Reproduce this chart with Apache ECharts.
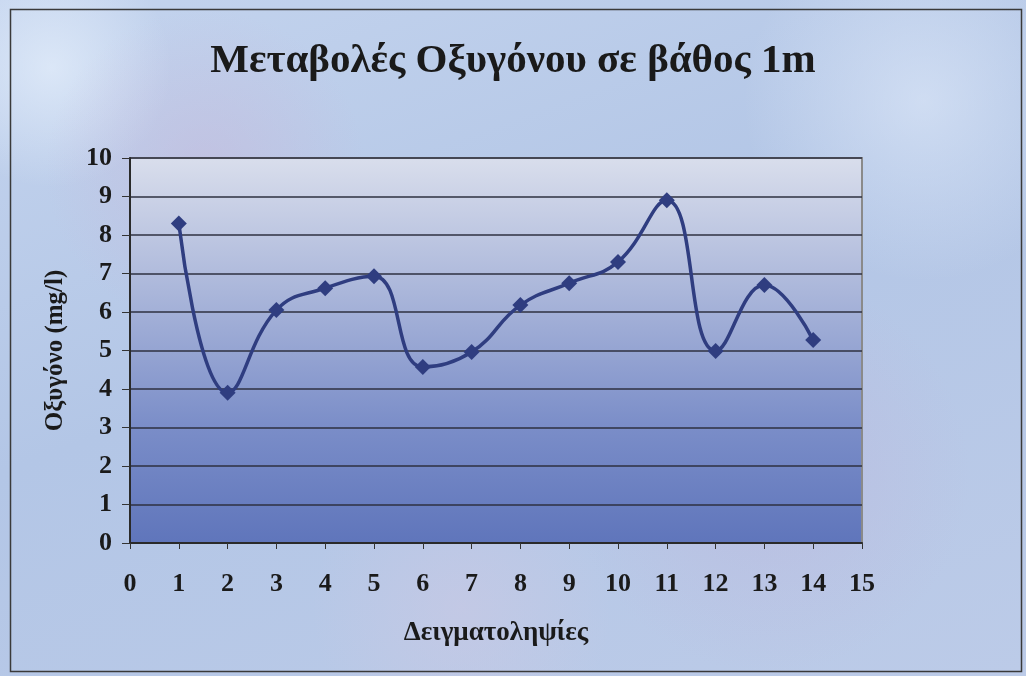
<!DOCTYPE html>
<html>
<head>
<meta charset="utf-8">
<script src="https://cdn.jsdelivr.net/npm/echarts@6/dist/echarts.min.js"></script>
<style>
html,body{margin:0;padding:0;width:1026px;height:676px;overflow:hidden;}
body{background:
 radial-gradient(circle at 20% 25%, rgba(200,180,215,0.45) 0, rgba(200,180,215,0) 160px),
 radial-gradient(circle at 75% 70%, rgba(190,175,215,0.4) 0, rgba(190,175,215,0) 200px),
 radial-gradient(circle at 90% 15%, rgba(225,235,250,0.6) 0, rgba(225,235,250,0) 180px),
 radial-gradient(circle at 5% 10%, rgba(230,240,252,0.7) 0, rgba(230,240,252,0) 120px),
 radial-gradient(circle at 45% 90%, rgba(215,200,225,0.35) 0, rgba(215,200,225,0) 150px),
 linear-gradient(160deg,#c4d4ee 0%,#b3c6e6 45%,#bccbe8 100%);}
#chart{width:1026px;height:676px;}
</style>
</head>
<body>
<div id="chart"></div>
<script>
const titleText = 'Μεταβολές Οξυγόνου σε βάθος 1m';
const xName = 'Δειγματοληψίες';
const yName = 'Οξυγόνο (mg/l)';
const samples = [1,2,3,4,5,6,7,8,9,10,11,12,13,14];
const oxygen = [8.3,3.9,6.05,6.62,6.93,4.57,4.96,6.18,6.75,7.3,8.9,4.99,6.7,5.27];

const data = samples.map((s,i)=>[s, oxygen[i]]);
const chart = echarts.init(document.getElementById('chart'));
const font = '"Liberation Serif","Times New Roman",serif';
chart.setOption({
  backgroundColor: 'transparent',
  animation: false,
  title: {
    text: titleText, left: 'center', top: 36,
    textStyle: {fontFamily: font, fontWeight: 'bold', fontSize: 41, color: '#1a1a1a'}
  },
  graphic: [{
    type: 'rect', left: 8, top: 7, z: -1,
    shape: {width: 1011, height: 662},
    style: {fill: 'none', stroke: '#3a3a3a', lineWidth: 1.5}
  }],
  grid: {
    left: 130, right: 164, top: 158, bottom: 133,
    show: true,
    borderColor: '#8a8a8a', borderWidth: 2,
    backgroundColor: new echarts.graphic.LinearGradient(0,0,0,1,[
      {offset:0, color:'#d9deec'},
      {offset:0.35, color:'#aab6da'},
      {offset:0.7, color:'#7a8dc8'},
      {offset:1, color:'#5f75bb'}
    ])
  },
  xAxis: {
    type: 'value', min: 0, max: 15, interval: 1,
    name: xName, nameLocation: 'middle', nameGap: 77,
    nameTextStyle: {fontFamily: font, fontWeight: 'bold', fontSize: 27, color: '#1a1a1a'},
    axisLine: {show: true, onZero: false, lineStyle: {color: '#2a2a2a', width: 2}},
    axisTick: {show: true, inside: false, length: 6, lineStyle: {color: '#333'}},
    axisLabel: {margin: 28, fontFamily: font, fontWeight: 'bold', fontSize: 26, color: '#1a1a1a'},
    splitLine: {show: false}
  },
  yAxis: {
    type: 'value', min: 0, max: 10, interval: 1,
    name: yName, nameLocation: 'middle', nameGap: 62, nameRotate: 90,
    nameTextStyle: {fontFamily: font, fontWeight: 'bold', fontSize: 25, color: '#1a1a1a'},
    axisLine: {show: true, lineStyle: {color: '#2a2a2a', width: 2}},
    axisTick: {show: true, inside: false, length: 8, lineStyle: {color: '#333'}},
    axisLabel: {margin: 18, fontFamily: font, fontWeight: 'bold', fontSize: 26, color: '#1a1a1a'},
    splitLine: {show: true, lineStyle: {color: '#2e3140', width: 1.5}}
  },
  series: [{
    type: 'line', data: data, smooth: 0.45,
    symbol: 'diamond', symbolSize: 16,
    lineStyle: {color: '#2f3d80', width: 3.5},
    itemStyle: {color: '#2f3d80'}
  }]
});
</script>
</body>
</html>
